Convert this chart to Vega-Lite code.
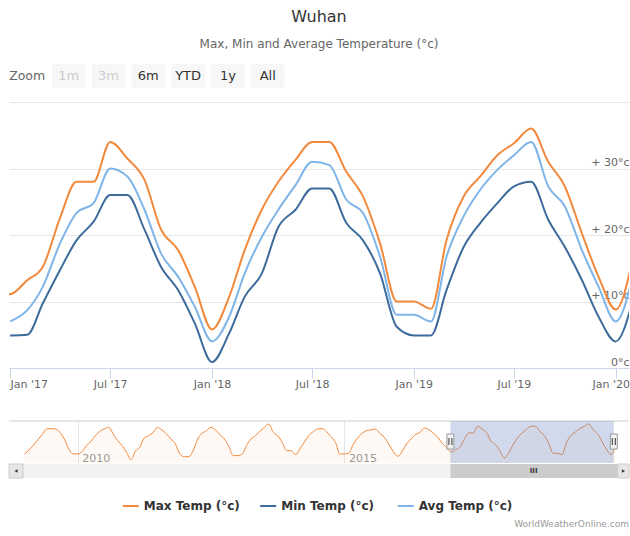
{
  "$schema": "https://vega.github.io/schema/vega-lite/v6.json",
  "padding": {"left": 8, "top": 9, "right": 0, "bottom": 0},
  "title": {
    "text": "Wuhan",
    "subtitle": "Max, Min and Average Temperature (°c)",
    "anchor": "middle",
    "fontSize": 16,
    "fontWeight": "normal",
    "color": "#333333",
    "font": "DejaVu Sans",
    "subtitleFont": "DejaVu Sans",
    "subtitleFontSize": 12,
    "subtitleColor": "#666666",
    "subtitlePadding": 14,
    "offset": 14
  },
  "config": {
    "font": "DejaVu Sans",
    "view": {"stroke": null},
    "concat": {"spacing": 0}
  },
  "datasets": {
    "temps": [
      {"date": "2009-01-01", "max": 9.4}, {"date": "2009-02-01", "max": 12.9}, {"date": "2009-03-01", "max": 16.8}, {"date": "2009-04-01", "max": 21.8},
      {"date": "2009-05-01", "max": 26.5}, {"date": "2009-06-01", "max": 31.6}, {"date": "2009-07-01", "max": 31.9}, {"date": "2009-08-01", "max": 31.6},
      {"date": "2009-09-01", "max": 28.6}, {"date": "2009-10-01", "max": 22.7}, {"date": "2009-11-01", "max": 13.8}, {"date": "2009-12-01", "max": 9.4},
      {"date": "2010-01-01", "max": 9.4}, {"date": "2010-02-01", "max": 11.7}, {"date": "2010-03-01", "max": 16.8}, {"date": "2010-04-01", "max": 20.6},
      {"date": "2010-05-01", "max": 25.6}, {"date": "2010-06-01", "max": 29.5}, {"date": "2010-07-01", "max": 31.6}, {"date": "2010-08-01", "max": 33.0},
      {"date": "2010-09-01", "max": 27.1}, {"date": "2010-10-01", "max": 21.2}, {"date": "2010-11-01", "max": 16.8}, {"date": "2010-12-01", "max": 10.8},
      {"date": "2011-01-01", "max": 4.3}, {"date": "2011-02-01", "max": 12.3}, {"date": "2011-03-01", "max": 15.3}, {"date": "2011-04-01", "max": 23.6},
      {"date": "2011-05-01", "max": 25.6}, {"date": "2011-06-01", "max": 28.6}, {"date": "2011-07-01", "max": 33.0}, {"date": "2011-08-01", "max": 30.7},
      {"date": "2011-09-01", "max": 27.1}, {"date": "2011-10-01", "max": 22.7}, {"date": "2011-11-01", "max": 18.2}, {"date": "2011-12-01", "max": 9.4},
      {"date": "2012-01-01", "max": 7.0}, {"date": "2012-02-01", "max": 7.0}, {"date": "2012-03-01", "max": 12.3}, {"date": "2012-04-01", "max": 22.7},
      {"date": "2012-05-01", "max": 27.7}, {"date": "2012-06-01", "max": 30.1}, {"date": "2012-07-01", "max": 33.0}, {"date": "2012-08-01", "max": 30.7},
      {"date": "2012-09-01", "max": 26.5}, {"date": "2012-10-01", "max": 22.7}, {"date": "2012-11-01", "max": 15.9}, {"date": "2012-12-01", "max": 7.9},
      {"date": "2013-01-01", "max": 7.9}, {"date": "2013-02-01", "max": 9.4}, {"date": "2013-03-01", "max": 16.8}, {"date": "2013-04-01", "max": 22.7},
      {"date": "2013-05-01", "max": 25.6}, {"date": "2013-06-01", "max": 29.5}, {"date": "2013-07-01", "max": 33.0}, {"date": "2013-08-01", "max": 36.0},
      {"date": "2013-09-01", "max": 28.6}, {"date": "2013-10-01", "max": 25.6}, {"date": "2013-11-01", "max": 19.7}, {"date": "2013-12-01", "max": 12.3},
      {"date": "2014-01-01", "max": 12.3}, {"date": "2014-02-01", "max": 8.8}, {"date": "2014-03-01", "max": 13.8}, {"date": "2014-04-01", "max": 19.7},
      {"date": "2014-05-01", "max": 25.6}, {"date": "2014-06-01", "max": 29.2}, {"date": "2014-07-01", "max": 31.6}, {"date": "2014-08-01", "max": 31.9},
      {"date": "2014-09-01", "max": 29.2}, {"date": "2014-10-01", "max": 24.7}, {"date": "2014-11-01", "max": 19.7}, {"date": "2014-12-01", "max": 9.4},
      {"date": "2015-01-01", "max": 9.4}, {"date": "2015-02-01", "max": 10.2}, {"date": "2015-03-01", "max": 17.6}, {"date": "2015-04-01", "max": 23.6},
      {"date": "2015-05-01", "max": 27.7}, {"date": "2015-06-01", "max": 30.1}, {"date": "2015-07-01", "max": 30.7}, {"date": "2015-08-01", "max": 31.6},
      {"date": "2015-09-01", "max": 27.7}, {"date": "2015-10-01", "max": 24.2}, {"date": "2015-11-01", "max": 18.2}, {"date": "2015-12-01", "max": 11.7},
      {"date": "2016-01-01", "max": 7.3}, {"date": "2016-02-01", "max": 11.7}, {"date": "2016-03-01", "max": 18.2}, {"date": "2016-04-01", "max": 22.7},
      {"date": "2016-05-01", "max": 26.5}, {"date": "2016-06-01", "max": 28.6}, {"date": "2016-07-01", "max": 32.4}, {"date": "2016-08-01", "max": 31.0},
      {"date": "2016-09-01", "max": 28.0}, {"date": "2016-10-01", "max": 24.2}, {"date": "2016-11-01", "max": 18.8}, {"date": "2016-12-01", "max": 15.3},
      {"date": "2017-01-01", "max": 11.1, "min": 4.9, "avg": 7.0},
      {"date": "2017-02-01", "max": 13.2, "min": 5.0, "avg": 8.7},
      {"date": "2017-03-01", "max": 15.2, "min": 9.7, "avg": 12.2},
      {"date": "2017-04-01", "max": 22.5, "min": 14.7, "avg": 18.7},
      {"date": "2017-05-01", "max": 28.0, "min": 19.2, "avg": 23.3},
      {"date": "2017-06-01", "max": 28.0, "min": 22.0, "avg": 24.8},
      {"date": "2017-07-01", "max": 34.0, "min": 26.0, "avg": 30.0},
      {"date": "2017-08-01", "max": 31.5, "min": 26.0, "avg": 28.8},
      {"date": "2017-09-01", "max": 28.3, "min": 20.8, "avg": 23.8},
      {"date": "2017-10-01", "max": 20.8, "min": 15.2, "avg": 17.2},
      {"date": "2017-11-01", "max": 17.7, "min": 11.7, "avg": 13.7},
      {"date": "2017-12-01", "max": 12.2, "min": 6.7, "avg": 9.2},
      {"date": "2018-01-01", "max": 5.8, "min": 0.9, "avg": 4.0},
      {"date": "2018-02-01", "max": 10.7, "min": 5.2, "avg": 7.7},
      {"date": "2018-03-01", "max": 17.7, "min": 10.7, "avg": 14.2},
      {"date": "2018-04-01", "max": 23.8, "min": 14.2, "avg": 19.7},
      {"date": "2018-05-01", "max": 28.0, "min": 21.2, "avg": 23.8},
      {"date": "2018-06-01", "max": 31.3, "min": 23.8, "avg": 27.5},
      {"date": "2018-07-01", "max": 34.0, "min": 27.0, "avg": 31.0},
      {"date": "2018-08-01", "max": 34.0, "min": 27.0, "avg": 30.5},
      {"date": "2018-09-01", "max": 29.5, "min": 21.8, "avg": 25.3},
      {"date": "2018-10-01", "max": 25.8, "min": 19.2, "avg": 23.3},
      {"date": "2018-11-01", "max": 18.7, "min": 14.2, "avg": 16.7},
      {"date": "2018-12-01", "max": 10.0, "min": 6.2, "avg": 8.0},
      {"date": "2019-01-01", "max": 10.0, "min": 4.9, "avg": 8.0},
      {"date": "2019-02-01", "max": 8.9, "min": 4.9, "avg": 7.0},
      {"date": "2019-03-01", "max": 19.2, "min": 11.7, "avg": 16.7},
      {"date": "2019-04-01", "max": 25.8, "min": 18.2, "avg": 22.8},
      {"date": "2019-05-01", "max": 28.8, "min": 21.8, "avg": 26.8},
      {"date": "2019-06-01", "max": 32.0, "min": 24.8, "avg": 29.8},
      {"date": "2019-07-01", "max": 33.8, "min": 27.3, "avg": 32.0},
      {"date": "2019-08-01", "max": 36.0, "min": 28.0, "avg": 34.0},
      {"date": "2019-09-01", "max": 31.0, "min": 22.3, "avg": 27.3},
      {"date": "2019-10-01", "max": 27.3, "min": 18.2, "avg": 24.3},
      {"date": "2019-11-01", "max": 20.2, "min": 13.2, "avg": 17.7},
      {"date": "2019-12-01", "max": 13.7, "min": 7.7, "avg": 12.2},
      {"date": "2020-01-01", "max": 8.8, "min": 4.0, "avg": 7.0},
      {"date": "2020-02-01", "max": 16.5, "min": 10.2, "avg": 13.8}
    ]
  },
  "spacing": 31,
  "vconcat": [
    {
      "spacing": 2,
      "vconcat": [
        {
          "width": 278.6,
          "height": 24,
          "data": {"values": [
            {"b": "Zoom", "s": "label"},
            {"b": "1m", "s": "disabled"},
            {"b": "3m", "s": "disabled"},
            {"b": "6m", "s": "enabled"},
            {"b": "YTD", "s": "enabled"},
            {"b": "1y", "s": "enabled"},
            {"b": "All", "s": "enabled"}
          ]},
          "encoding": {
            "x": {"field": "b", "type": "nominal", "sort": null, "axis": null,
                  "scale": {"type": "band", "domain": ["Zoom", "1m", "3m", "6m", "YTD", "1y", "All"], "paddingInner": 0.158, "paddingOuter": 0.079}}
          },
          "layer": [
            {
              "transform": [{"filter": "datum.s != 'label'"}],
              "mark": {"type": "rect", "fill": "#f7f7f7", "cornerRadius": 2}
            },
            {
              "transform": [{"filter": "datum.s != 'label'"}],
              "mark": {"type": "text", "fontSize": 13, "align": "center", "baseline": "middle"},
              "encoding": {
                "text": {"field": "b"},
                "color": {"condition": {"test": "datum.s == 'disabled'", "value": "#cccccc"}, "value": "#333333"}
              }
            },
            {
              "transform": [{"filter": "datum.s == 'label'"}],
              "mark": {"type": "text", "fontSize": 12.5, "align": "left", "baseline": "middle", "color": "#666666", "dx": -3},
              "encoding": {
                "x": {"field": "b", "type": "nominal", "bandPosition": 0},
                "text": {"field": "b"}
              }
            }
          ]
        },
        {
          "width": 620,
          "height": 266,
          "data": {"name": "temps"},
          "transform": [
            {"fold": ["max", "min", "avg"], "as": ["key", "value"]},
            {"filter": "isValid(datum.value)"}
          ],
          "mark": {"type": "line", "interpolate": "monotone", "strokeWidth": 2, "clip": true},
          "encoding": {
            "x": {
              "field": "date", "type": "temporal",
              "scale": {"type": "utc", "domain": [{"year": 2016, "month": 12, "date": 30, "utc": true}, {"year": 2020, "month": 1, "date": 25, "utc": true}]},
              "axis": {
                "title": null, "format": "%b '%y", "tickCount": {"interval": "month", "step": 6},
                "labelFlush": 5, "labelOverlap": false, "domainColor": "#ccd6eb", "tickColor": "#ccd6eb",
                "tickSize": 10, "labelPadding": 0, "labelFontSize": 11, "labelColor": "#666666", "grid": false,
                "labelOffset": {"condition": {"test": "datum.value > utc(2019, 10, 1)", "value": -5}, "value": 0}
              }
            },
            "y": {
              "field": "value", "type": "quantitative",
              "scale": {"domain": [0, 40], "nice": false, "zero": false},
              "axis": {
                "orient": "right", "title": null, "values": [0, 10, 20, 30, 40], "domain": false, "ticks": false, "tickSize": 0,
                "labelAlign": "right", "labelBaseline": "alphabetic", "labelOffset": -3, "labelPadding": 0,
                "labelFontSize": 11, "labelColor": "#666666", "labelOverlap": false, "labelFlush": false,
                "grid": true, "gridColor": "#e6e6e6",
                "labelExpr": "datum.value == 40 ? '' : (datum.value > 0 ? '+ ' + datum.value + '°c' : datum.value + '°c')"
              }
            },
            "color": {"field": "key", "type": "nominal", "scale": {"domain": ["max", "min", "avg"], "range": ["#f28a3d", "#3c6b9c", "#7fb5e8"]}, "legend": null}
          }
        }
      ]
    },
    {
      "spacing": 20,
      "vconcat": [
        {
          "spacing": 0,
          "vconcat": [
            {
              "width": 620,
              "height": 42,
              "layer": [
                {
                  "data": {"name": "temps"},
                  "mark": {"type": "area", "interpolate": "monotone", "color": "#f28a3d", "fillOpacity": 0.05},
                  "encoding": {
                    "x": {
                      "field": "date", "type": "temporal",
                      "scale": {"type": "utc", "domain": [{"year": 2008, "month": 9, "date": 17, "utc": true}, {"year": 2020, "month": 5, "date": 3, "utc": true}]},
                      "axis": {
                        "title": null, "values": [{"year": 2010, "utc": true}, {"year": 2015, "utc": true}], "format": "%Y",
                        "domain": false, "ticks": false, "tickSize": 0, "grid": true, "gridColor": "#e6e6e6",
                        "labelAlign": "left", "labelBaseline": "bottom", "labelPadding": 0, "labelOffset": 4,
                        "labelFontSize": 11, "labelColor": "#999999", "labelFlush": false, "labelOverlap": false
                      }
                    },
                    "y": {"field": "max", "type": "quantitative", "scale": {"domain": [1.36, 38.66], "nice": false, "zero": false}, "axis": null},
                    "y2": {"datum": 1.36}
                  }
                },
                {
                  "data": {"name": "temps"},
                  "mark": {"type": "line", "interpolate": "monotone", "color": "#f28a3d", "strokeWidth": 1},
                  "encoding": {
                    "x": {"field": "date", "type": "temporal"},
                    "y": {"field": "max", "type": "quantitative"}
                  }
                },
                {
                  "data": {"values": [{"top": 38.66}]},
                  "mark": {"type": "rule", "color": "#cccccc", "strokeWidth": 1},
                  "encoding": {"y": {"field": "top", "type": "quantitative"}}
                },
                {
                  "data": {"values": [{"s": "2016-12-27", "e": "2020-01-20"}]},
                  "mark": {"type": "rect", "color": "#6685c2", "opacity": 0.3},
                  "encoding": {
                    "x": {"field": "s", "type": "temporal"},
                    "x2": {"field": "e"}
                  }
                },
                {
                  "data": {"values": [{"d": "2016-12-27", "c": 20.4}, {"d": "2020-01-20", "c": 20.4}]},
                  "mark": {"type": "tick", "orient": "vertical", "size": 15, "thickness": 7, "color": "#f2f2f2", "stroke": "#999999", "strokeWidth": 1, "opacity": 1},
                  "encoding": {
                    "x": {"field": "d", "type": "temporal"},
                    "y": {"field": "c", "type": "quantitative"}
                  }
                },
                {
                  "data": {"values": [{"d": "2016-12-27", "c": 20.4}, {"d": "2020-01-20", "c": 20.4}]},
                  "mark": {"type": "tick", "orient": "vertical", "size": 7, "thickness": 1, "color": "#333333", "xOffset": -1.5, "opacity": 1},
                  "encoding": {
                    "x": {"field": "d", "type": "temporal"},
                    "y": {"field": "c", "type": "quantitative"}
                  }
                },
                {
                  "data": {"values": [{"d": "2016-12-27", "c": 20.4}, {"d": "2020-01-20", "c": 20.4}]},
                  "mark": {"type": "tick", "orient": "vertical", "size": 7, "thickness": 1, "color": "#333333", "xOffset": 1.5, "opacity": 1},
                  "encoding": {
                    "x": {"field": "d", "type": "temporal"},
                    "y": {"field": "c", "type": "quantitative"}
                  }
                }
              ]
            },
            {
              "width": 620,
              "height": 14,
              "view": {"fill": "#f2f2f2", "stroke": null},
              "layer": [
                {
                  "data": {"values": [{"s": "2008-09-17", "e": "2008-12-22"}, {"s": "2020-02-15", "e": "2020-05-03"}]},
                  "mark": {"type": "rect", "fill": "#e6e6e6", "stroke": "#cccccc", "strokeWidth": 1},
                  "encoding": {
                    "x": {
                      "field": "s", "type": "temporal", "axis": null,
                      "scale": {"type": "utc", "domain": [{"year": 2008, "month": 9, "date": 17, "utc": true}, {"year": 2020, "month": 5, "date": 3, "utc": true}]}
                    },
                    "x2": {"field": "e"}
                  }
                },
                {
                  "data": {"values": [{"s": "2016-12-27", "e": "2020-02-15"}]},
                  "mark": {"type": "rect", "fill": "#cccccc"},
                  "encoding": {
                    "x": {"field": "s", "type": "temporal"},
                    "x2": {"field": "e"}
                  }
                },
                {
                  "data": {"values": [{"m": "2018-07-20", "g": "III"}]},
                  "mark": {"type": "text", "fontSize": 7, "fontWeight": "bold", "color": "#333333", "align": "center", "baseline": "middle"},
                  "encoding": {
                    "x": {"field": "m", "type": "temporal"},
                    "text": {"field": "g"}
                  }
                },
                {
                  "data": {"values": [{"d": "2008-11-04", "dir": "l"}, {"d": "2020-03-26", "dir": "r"}]},
                  "mark": {"type": "point", "filled": true, "size": 14, "color": "#333333", "opacity": 1},
                  "encoding": {
                    "x": {"field": "d", "type": "temporal"},
                    "shape": {"field": "dir", "type": "nominal", "scale": {"domain": ["l", "r"], "range": ["triangle-left", "triangle-right"]}, "legend": null}
                  }
                }
              ]
            }
          ]
        },
        {
          "width": 620,
          "height": 14,
          "title": {"text": "WorldWeatherOnline.com", "orient": "bottom", "anchor": "end", "fontSize": 9, "fontWeight": "normal", "color": "#999999", "offset": 7},
          "data": {"values": [
            {"k": "max", "label": "Max Temp (°c)"},
            {"k": "min", "label": "Min Temp (°c)"},
            {"k": "avg", "label": "Avg Temp (°c)"}
          ]},
          "encoding": {
            "x": {"field": "k", "type": "nominal", "sort": null, "axis": null,
                  "scale": {"type": "band", "domain": ["max", "min", "avg"], "paddingInner": 0, "paddingOuter": 0.7545, "align": 0.548}}
          },
          "layer": [
            {
              "mark": {"type": "tick", "orient": "horizontal", "size": 16, "thickness": 2, "opacity": 1, "xOffset": -60.75},
              "encoding": {
                "color": {"field": "k", "type": "nominal", "scale": {"domain": ["max", "min", "avg"], "range": ["#f28a3d", "#3c6b9c", "#7fb5e8"]}, "legend": null}
              }
            },
            {
              "mark": {"type": "text", "align": "left", "baseline": "middle", "dx": 21, "fontSize": 12, "fontWeight": "bold", "color": "#333333"},
              "encoding": {
                "x": {"field": "k", "type": "nominal", "bandPosition": 0},
                "text": {"field": "label"}
              }
            }
          ]
        }
      ]
    }
  ]
}
